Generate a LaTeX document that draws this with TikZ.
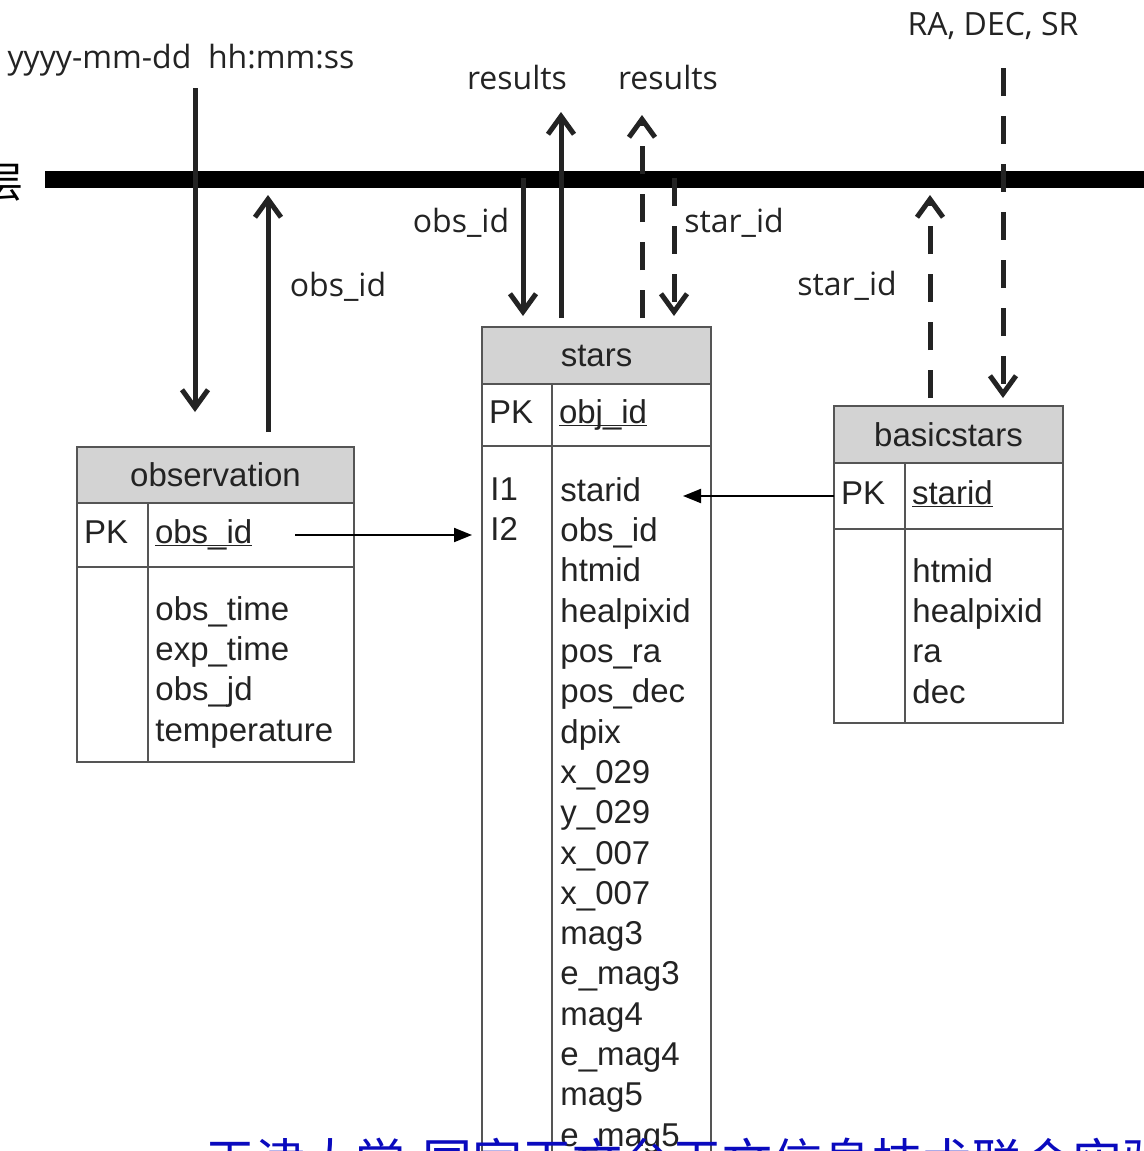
\documentclass[tikz,border=0pt]{standalone}
\usepackage{fontspec}
\usepackage{xcolor}
\usepackage{tikz}
\usetikzlibrary{arrows.meta}
\usetikzlibrary{positioning}
\setmainfont{Liberation Sans}
\newfontfamily\lblfont{Open Sans}
\newfontfamily\cjkfont{Noto Sans CJK SC}
\definecolor{tblline}{RGB}{85,85,85}
\definecolor{headfill}{RGB}{211,211,211}
\definecolor{txtdark}{RGB}{35,35,35}
\definecolor{wmblue}{RGB}{10,10,190}
\newcommand{\pkey}[1]{\underline{\smash{#1}}}
\tikzset{
    cell/.style = {draw=tblline, line width=1.2pt, inner sep=0pt, outer sep=0pt, anchor=north west, text=txtdark, font=\fontsize{16.5}{20.15}\selectfont},
    headcell/.style = {cell, fill=headfill},
    keycell/.style = {cell, align=left, inner xsep=3.5pt, text height=12pt, text depth=4pt},
    fldlist/.style = {anchor=north west, inner sep=0pt, align=left, text=txtdark, font=\fontsize{16.5}{20.15}\selectfont},
    lbl/.style = {anchor=base, inner sep=0pt, text=txtdark, font=\lblfont\fontsize{16}{19}\selectfont}
}
\tikzset{
    bus/.style = {line width=8.5pt, draw=black},
    flow/.style = {line width=2.5pt, draw=txtdark, -{Straight Barb[length=9pt,width=13pt]}},
    dflow/.style = {flow, dash pattern=on 14pt off 10pt},
    fk/.style = {line width=1pt, draw=black, -{Triangle[length=9pt,width=7pt]}}
}

\begin{document}
\begin{tikzpicture}[x=0.5pt, y=-0.5pt]
    \useasboundingbox (0,0) rectangle (1144,1151);
    \fill[white] (0,0) rectangle (1144,1151);

    % interface bar
    \coordinate (busL) at (45,179);
    \coordinate (busR) at (1160,179);
    \draw[bus] (busL) -- (busR);
    \node[anchor=base east, inner sep=0pt, font=\cjkfont\fontsize{21}{21}\selectfont] (layer) at (24,197) {层};

    % observation
    \node[headcell, minimum width=138.5pt, minimum height=28pt] (obs-head) at (77,447) {observation};
    \node[keycell, text width=28.5pt, minimum height=32pt] (obs-pkkey) at (obs-head.south west) {PK};
    \node[keycell, text width=96pt, minimum height=32pt] (obs-pkfld) at (obs-pkkey.north east) {\pkey{obs\_id}};
    \node[cell, minimum width=35.5pt, minimum height=97.5pt] (obs-key) at (obs-pkkey.south west) {};
    \node[cell, minimum width=103pt, minimum height=97.5pt] (obs-fld) at (obs-key.north east) {};
    \node[fldlist] (obs-list) at (155,596) {obs\_time\\exp\_time\\obs\_jd\\temperature};

    % stars
    \node[headcell, minimum width=114.5pt, minimum height=28.5pt] (stars-head) at (482,327) {stars};
    \node[keycell, text width=28pt, minimum height=31pt] (stars-pkkey) at (stars-head.south west) {PK};
    \node[keycell, text width=72.5pt, minimum height=31pt] (stars-pkfld) at (stars-pkkey.north east) {\pkey{obj\_id}};
    \node[cell, minimum width=35pt, minimum height=380pt] (stars-key) at (stars-pkkey.south west) {};
    \node[cell, minimum width=79.5pt, minimum height=380pt] (stars-fld) at (stars-key.north east) {};
    \node[fldlist] (stars-ix) at (490,477) {I1\\I2};
    \node[fldlist] (stars-list) at (560,477) {starid\\obs\_id\\htmid\\healpixid\\pos\_ra\\pos\_dec\\dpix\\x\_029\\y\_029\\x\_007\\x\_007\\mag3\\e\_mag3\\mag4\\e\_mag4\\mag5\\e\_mag5};

    % basicstars
    \node[headcell, minimum width=114.5pt, minimum height=28.5pt] (basic-head) at (834,406) {basicstars};
    \node[keycell, text width=28.5pt, minimum height=33pt] (basic-pkkey) at (basic-head.south west) {PK};
    \node[keycell, text width=72pt, minimum height=33pt] (basic-pkfld) at (basic-pkkey.north east) {\pkey{starid}};
    \node[cell, minimum width=35.5pt, minimum height=97pt] (basic-key) at (basic-pkkey.south west) {};
    \node[cell, minimum width=79pt, minimum height=97pt] (basic-fld) at (basic-key.north east) {};
    \node[fldlist] (basic-list) at (912,558) {htmid\\healpixid\\ra\\dec};

    % foreign keys
    \coordinate (obs-out) at (295,535);
    \draw[fk] (obs-out) -- ([xshift=-5pt]obs-out -| stars-key.west);
    \draw[fk] (basic-pkkey.west) -- ([xshift=-14pt]basic-pkkey.west -| stars-fld.east);

    % labels
    \node[lbl] (ts-lbl) at (181,68) {yyyy-mm-dd\ \ hh:mm:ss};
    \node[lbl] (res-a) at (517,89) {results};
    \node[lbl] (res-b) at (668,89) {results};
    \node[lbl] (radec) at (993,35) {RA, DEC, SR};
    \node[lbl] (obsid-a) at (338,296) {obs\_id};
    \node[lbl] (obsid-b) at (461,232) {obs\_id};
    \node[lbl] (starid-a) at (734,232) {star\_id};
    \node[lbl] (starid-b) at (847,295) {star\_id};

    % flows through the bar
    \coordinate (ts-in) at (195,88);
    \coordinate (ts-out) at (195,412);
    \coordinate (obs-up) at (268,432);
    \coordinate (obs-top) at (268,195);
    \coordinate (sq-in) at (523,178);
    \coordinate (sq-out) at (523,316);
    \coordinate (res-in) at (561,318);
    \coordinate (res-out) at (561,112);
    \coordinate (dres-in) at (642,318);
    \coordinate (dres-out) at (642,115);
    \coordinate (dsq-in) at (674,178);
    \coordinate (dsq-out) at (674,316);
    \coordinate (bs-in) at (930,398);
    \coordinate (bs-out) at (930,195);
    \coordinate (cone-in) at (1003,68);
    \coordinate (cone-out) at (1003,398);
    \draw[flow] (ts-in) -- (ts-out);
    \draw[flow] (obs-up) -- (obs-top);
    \draw[flow] (sq-in) -- (sq-out);
    \draw[flow] (res-in) -- (res-out);
    \draw[dflow] (dres-in) -- (dres-out);
    \draw[dflow] (dsq-in) -- (dsq-out);
    \draw[dflow] (bs-in) -- (bs-out);
    \draw[dflow] (cone-in) -- (cone-out);

    % watermark
    \node[anchor=base west, inner sep=0pt, text=wmblue, font=\cjkfont\fontsize{25}{25}\selectfont] (lab) at (205,1180) {天津大学-国家天文台天文信息技术联合实验室};
\end{tikzpicture}
\end{document}
